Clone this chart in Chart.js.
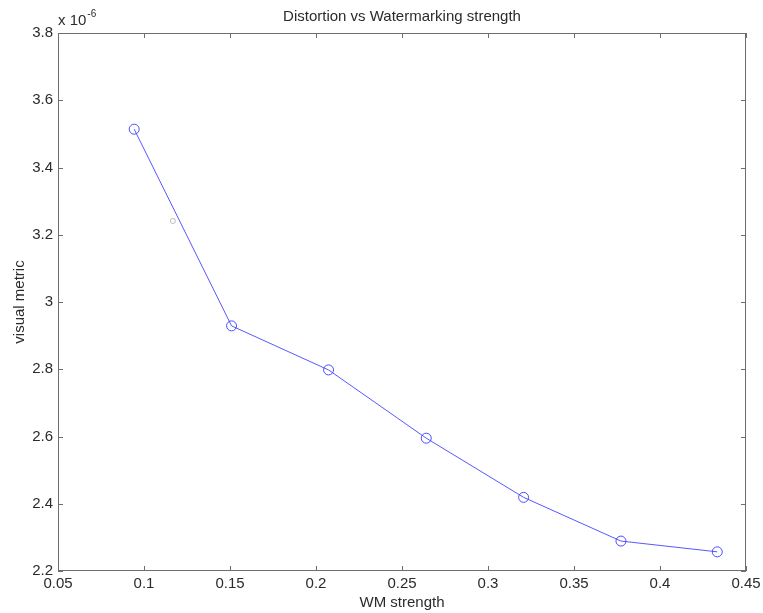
<!DOCTYPE html>
<html>
<head>
<meta charset="utf-8">
<script src="https://cdn.jsdelivr.net/npm/chart.js@4.4.0/dist/chart.umd.min.js"></script>
<style>
  body { margin: 0; background: #fff; }
  #wrap { width: 763px; height: 613px; }
</style>
</head>
<body>
<div id="wrap"><canvas id="my-chart" width="763" height="613"></canvas></div>
<script>
// WM strength values and visual metric (x 1e-6)
const wmStrength = [0.0943, 0.1509, 0.2073, 0.2641, 0.3207, 0.3773, 0.4333];
const visualMetric = [3.514, 2.929, 2.798, 2.595, 2.419, 2.289, 2.257];
// stray faint markers on the figure
const strayX = [0.1168];
const strayY = [3.241];
const xTicks = [0.05, 0.1, 0.15, 0.2, 0.25, 0.3, 0.35, 0.4, 0.45];
const yTicks = [2.2, 2.4, 2.6, 2.8, 3, 3.2, 3.4, 3.6, 3.8];

const FONT = '"Liberation Sans", Arial, sans-serif';
const AXIS_COLOR = '#6e6e6e';
const TEXT_COLOR = '#2b2b2b';

const matlabAxesPlugin = {
  id: 'matlabAxes',
  afterDraw(chart) {
    const ctx = chart.ctx;
    const { left, right, top, bottom } = chart.chartArea;
    const xs = chart.scales.x;
    const ys = chart.scales.y;
    ctx.save();
    ctx.strokeStyle = AXIS_COLOR;
    ctx.lineWidth = 1;
    ctx.strokeRect(left + 0.5, top + 0.5, right - left - 1, bottom - top - 1);

    // inward ticks on all four sides
    const tl = 5;
    ctx.beginPath();
    xTicks.forEach(v => {
      const px = Math.round(xs.getPixelForValue(v)) + 0.5;
      ctx.moveTo(px, bottom); ctx.lineTo(px, bottom - tl);
      ctx.moveTo(px, top); ctx.lineTo(px, top + tl);
    });
    yTicks.forEach(v => {
      const py = Math.round(ys.getPixelForValue(v)) + 0.5;
      ctx.moveTo(left, py); ctx.lineTo(left + tl, py);
      ctx.moveTo(right, py); ctx.lineTo(right - tl, py);
    });
    ctx.stroke();

    ctx.fillStyle = TEXT_COLOR;
    ctx.font = '15px ' + FONT;
    ctx.textAlign = 'center';
    ctx.textBaseline = 'middle';
    xTicks.forEach(v => {
      ctx.fillText(String(v), xs.getPixelForValue(v), bottom + 13);
    });
    ctx.textAlign = 'right';
    yTicks.forEach(v => {
      ctx.fillText(String(v), left - 5, ys.getPixelForValue(v));
    });

    // exponent label
    ctx.textAlign = 'left';
    ctx.textBaseline = 'alphabetic';
    ctx.font = '15px ' + FONT;
    ctx.fillText('x 10', left, top - 8);
    const w = ctx.measureText('x 10').width;
    ctx.font = '10px ' + FONT;
    ctx.fillText('-6', left + w + 1, top - 16);

    // title and axis titles
    ctx.font = '15px ' + FONT;
    ctx.textAlign = 'center';
    ctx.textBaseline = 'middle';
    ctx.fillText('Distortion vs Watermarking strength', (left + right) / 2, 17);
    ctx.fillText('WM strength', (left + right) / 2, 603);
    ctx.translate(20, (top + bottom) / 2);
    ctx.rotate(-Math.PI / 2);
    ctx.fillText('visual metric', 0, 0);
    ctx.restore();
  }
};

const chartCanvas = document.getElementById('my-chart');

new Chart(chartCanvas, {
  type: 'scatter',
  data: {
    datasets: [
      {
        label: 'visual metric',
        data: wmStrength.map((x, i) => ({ x: x, y: visualMetric[i] })),
        showLine: true,
        borderColor: 'rgba(70,70,255,0.9)',
        borderWidth: 1,
        pointRadius: 5,
        pointBorderWidth: 1,
        pointBackgroundColor: 'rgba(0,0,0,0)',
        pointBorderColor: 'rgba(60,60,255,0.9)',
        fill: false
      },
      {
        label: 'stray',
        data: strayX.map((x, i) => ({ x: x, y: strayY[i] })),
        showLine: false,
        pointRadius: 2.5,
        pointBorderWidth: 1,
        pointBackgroundColor: 'rgba(0,0,0,0)',
        pointBorderColor: '#bbbbbb'
      }
    ]
  },
  options: {
    responsive: false,
    animation: false,
    layout: { padding: { top: 33, right: 17, left: 0, bottom: 0 } },
    plugins: {
      legend: { display: false },
      tooltip: { enabled: false },
      title: { display: false }
    },
    scales: {
      x: {
        type: 'linear',
        min: 0.05,
        max: 0.45,
        grid: { display: false },
        border: { display: false },
        ticks: { display: false },
        afterFit(scale) { scale.height = 42; }
      },
      y: {
        type: 'linear',
        min: 2.2,
        max: 3.8,
        grid: { display: false },
        border: { display: false },
        ticks: { display: false },
        afterFit(scale) { scale.width = 58; }
      }
    }
  },
  plugins: [matlabAxesPlugin]
});
</script>
</body>
</html>
